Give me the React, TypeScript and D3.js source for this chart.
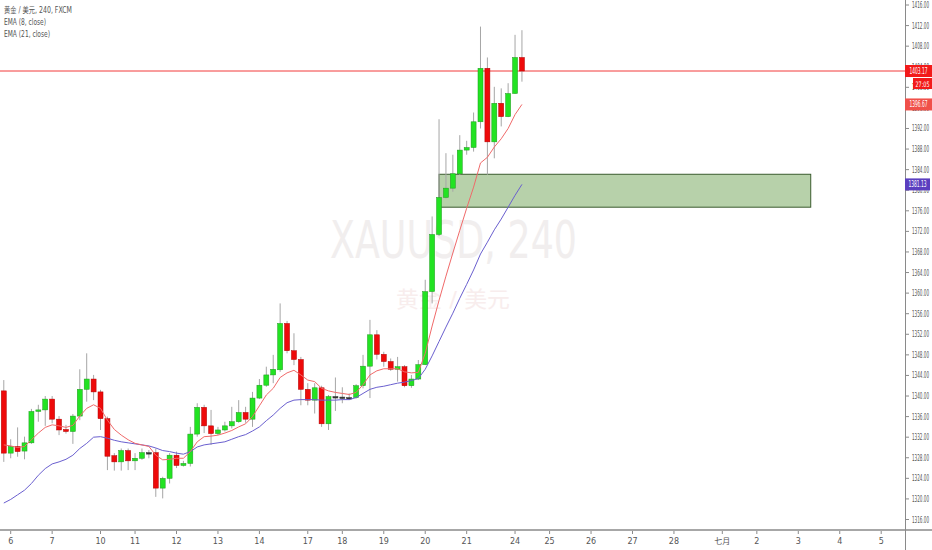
import React from 'react';
import * as d3 from 'd3';

// 4h candles, index 0 = session "6"
const candleStart = -1;
// [open, high, low, close]
const candles: [number, number, number, number][] = [
  [1341.0, 1343.1, 1327.2, 1328.9], [1328.9, 1331.6, 1327.9, 1330.2], [1330.2, 1333.9, 1328.2, 1329.2],
  [1329.3, 1332.1, 1327.7, 1330.9], [1330.9, 1337.5, 1330.7, 1337.0], [1337.0, 1338.3, 1335.0, 1337.3],
  [1337.3, 1340.0, 1334.2, 1339.4], [1339.4, 1340.0, 1334.7, 1335.5], [1335.5, 1336.1, 1332.4, 1333.4],
  [1333.5, 1334.4, 1332.7, 1333.1], [1333.1, 1336.5, 1330.7, 1336.1], [1336.1, 1345.2, 1335.3, 1341.3],
  [1341.3, 1348.3, 1338.9, 1343.3], [1343.3, 1344.1, 1339.2, 1340.8], [1340.8, 1341.2, 1333.4, 1335.6],
  [1335.6, 1336.0, 1325.6, 1328.3], [1328.4, 1328.9, 1325.5, 1327.2], [1327.2, 1329.8, 1325.5, 1329.4],
  [1329.4, 1329.8, 1325.6, 1327.4], [1327.4, 1328.9, 1325.6, 1327.9], [1327.9, 1329.8, 1327.6, 1329.0],
  [1329.0, 1329.5, 1327.9, 1329.0], [1329.0, 1329.8, 1320.4, 1322.1], [1322.1, 1324.3, 1320.1, 1324.0],
  [1324.0, 1328.9, 1323.0, 1328.5], [1328.5, 1329.2, 1326.0, 1326.5], [1326.5, 1327.4, 1326.3, 1326.9],
  [1326.9, 1334.0, 1326.3, 1332.6], [1332.6, 1338.6, 1332.1, 1337.8], [1337.8, 1338.3, 1332.8, 1334.2],
  [1334.2, 1337.3, 1330.5, 1332.7], [1332.7, 1334.0, 1332.4, 1333.4], [1333.4, 1335.0, 1333.1, 1334.2],
  [1334.2, 1337.9, 1333.7, 1335.0], [1335.0, 1339.2, 1334.8, 1336.8], [1336.8, 1337.9, 1334.8, 1335.5],
  [1335.5, 1340.8, 1334.0, 1339.6], [1339.6, 1343.3, 1339.4, 1342.1], [1342.1, 1345.7, 1341.8, 1344.1],
  [1344.1, 1348.0, 1342.5, 1345.2], [1345.1, 1358.0, 1344.7, 1354.1], [1354.1, 1354.6, 1348.3, 1348.8],
  [1348.8, 1352.2, 1346.0, 1347.1], [1347.1, 1347.6, 1338.2, 1341.3], [1341.3, 1342.5, 1338.2, 1339.2],
  [1339.2, 1342.5, 1336.6, 1341.6], [1341.6, 1342.0, 1334.0, 1334.6], [1334.6, 1340.2, 1333.4, 1339.9],
  [1339.9, 1343.6, 1337.1, 1339.9], [1339.8, 1341.7, 1338.6, 1339.8], [1339.7, 1340.5, 1339.2, 1339.7],
  [1339.7, 1342.3, 1339.5, 1342.0], [1342.0, 1348.0, 1341.5, 1345.8], [1345.8, 1354.8, 1339.6, 1351.9],
  [1351.9, 1352.8, 1347.1, 1348.1], [1348.1, 1348.6, 1345.7, 1346.7], [1346.7, 1347.3, 1344.9, 1345.2],
  [1345.2, 1347.6, 1342.8, 1345.7], [1345.7, 1346.0, 1341.7, 1342.0], [1342.0, 1344.1, 1341.6, 1343.3],
  [1343.3, 1347.0, 1343.1, 1346.1], [1346.1, 1362.6, 1346.0, 1360.3], [1360.3, 1374.9, 1358.0, 1371.4],
  [1371.4, 1393.8, 1371.1, 1378.6], [1378.6, 1387.2, 1378.4, 1380.4], [1380.4, 1386.9, 1379.7, 1383.2],
  [1383.2, 1390.7, 1383.0, 1387.8], [1387.8, 1389.6, 1386.9, 1388.3], [1388.3, 1395.1, 1387.5, 1393.3],
  [1393.3, 1411.8, 1392.0, 1403.7], [1403.7, 1405.8, 1383.0, 1389.4], [1389.4, 1400.1, 1386.2, 1396.9],
  [1396.9, 1399.8, 1392.4, 1394.3], [1394.3, 1400.8, 1394.2, 1398.8], [1398.8, 1410.2, 1398.7, 1405.8],
  [1405.8, 1411.1, 1401.1, 1403.17],
];

const ema8 = [
  1330.5, 1330.3, 1330.0, 1330.2, 1331.5, 1332.8, 1333.9, 1334.4, 1334.2, 1333.9, 1334.3, 1336.1,
  1337.6, 1338.3, 1337.6, 1335.3, 1333.5, 1332.4, 1331.5, 1330.8, 1330.5, 1330.2, 1328.5, 1327.6,
  1327.7, 1327.9, 1327.9, 1329.2, 1331.1, 1332.1, 1332.2, 1332.4, 1332.8, 1333.3, 1334.0, 1334.6,
  1336.0, 1338.1, 1340.2, 1341.5, 1343.6, 1344.5, 1345.0, 1344.1, 1343.1, 1342.8, 1341.5, 1341.0,
  1340.7, 1340.5, 1340.3, 1340.7, 1342.2, 1344.1, 1344.9, 1345.3, 1345.3, 1345.3, 1344.7, 1344.5,
  1344.6, 1348.3, 1353.6, 1358.6, 1363.3, 1367.8, 1372.2, 1376.5, 1380.6, 1385.3, 1386.4, 1388.4,
  1390.0, 1392.0, 1394.7, 1396.67,
];

const ema21 = [
  1319.2, 1319.9, 1320.8, 1321.7, 1323.0, 1324.6, 1325.9, 1326.8, 1327.2, 1327.7, 1328.5, 1329.8,
  1330.8, 1332.0, 1332.1, 1331.8, 1331.4, 1331.1, 1330.9, 1330.7, 1330.5, 1330.3, 1329.9, 1329.4,
  1329.2, 1328.9, 1328.7, 1329.2, 1330.1, 1330.5, 1330.7, 1330.9, 1331.1, 1331.6, 1332.1, 1332.5,
  1333.2, 1334.0, 1335.2, 1336.3, 1337.6, 1338.7, 1339.2, 1339.3, 1339.3, 1339.3, 1339.2, 1339.2,
  1339.2, 1339.3, 1339.3, 1339.7, 1340.5, 1341.3, 1341.7, 1341.9, 1342.2, 1342.5, 1342.7, 1343.0,
  1343.4, 1345.2, 1347.8, 1350.6, 1353.4, 1356.1, 1359.0, 1361.7, 1364.5, 1367.6, 1369.9, 1372.3,
  1374.4, 1376.7, 1379.0, 1381.13,
];

const dayLabels = ['6', '7', '10', '11', '12', '13', '14', '17', '18', '19', '20', '21', '24', '25', '26', '27', '28', '七月', '2', '3', '4', '5'];
const dayIndex = [0, 6, 13, 18, 24, 30, 36, 43, 48, 54, 60, 66, 73, 78, 84, 90, 96, 103, 108, 114, 120, 126];

const priceTicks = d3.range(1316, 1417, 4);
const lastPrice = 1403.17;
const zone = { from: 62, to: 115.8, top: 1383.1, bottom: 1376.7 };

const W = 932;
const H = 550;
const axisX = 905;
const axisY = 530;
const font = '"DejaVu Sans", "Noto Sans CJK SC", sans-serif';

export default function App() {
  const x = d3.scaleLinear().domain([0, 126]).range([10.7, 881.2]);
  const y = d3.scaleLinear().domain([1316, 1416]).range([519.5, 5]);
  const bw = 5;

  const line = d3
    .line<number>()
    .x((_, i) => x(i + candleStart))
    .y((d) => y(d));

  const priceBox = (v: number, fill: string, w = 27) => (
    <g transform={`translate(${axisX},${y(v)})`}>
      <rect x={0} y={-6} width={w} height={12} fill={fill} />
      <text x={w / 2} y={3} textAnchor="middle" fill="#fff" fontSize={8} textLength={18} lengthAdjust="spacingAndGlyphs">
        {v.toFixed(2)}
      </text>
    </g>
  );

  return (
    <svg width={W} height={H} style={{ position: 'absolute', left: 0, top: 0, background: '#fff' }} fontFamily={font}>
      <defs>
        <clipPath id="plot">
          <rect x={0} y={0} width={axisX} height={axisY} />
        </clipPath>
      </defs>

      {/* watermark */}
      <text x={330} y={258} fontSize={52} fill="#f1eeee" textLength={247} lengthAdjust="spacingAndGlyphs">
        XAUUSD, 240
      </text>
      <text x={396} y={307} fontSize={22} fill="#f8eded" textLength={114} lengthAdjust="spacingAndGlyphs">
        黄金 / 美元
      </text>

      <g clipPath="url(#plot)">
        {/* zone */}
        <rect
          x={x(zone.from)}
          y={y(zone.top)}
          width={x(zone.to) - x(zone.from)}
          height={y(zone.bottom) - y(zone.top)}
          fill="rgba(76,140,43,0.4)"
          stroke="#3b5b2e"
          strokeWidth={1}
        />

        {/* last price line */}
        <line x1={0} x2={axisX} y1={y(lastPrice)} y2={y(lastPrice)} stroke="#f23b3b" strokeWidth={1} />

        {/* candles */}
        {candles.map(([o, h, l, c], k) => {
          const cx = x(k + candleStart);
          const doji = Math.abs(o - c) < 0.05;
          const up = c > o;
          const fill = doji ? '#333' : up ? '#22e322' : '#ee0a0a';
          const stroke = doji ? '#333' : up ? '#1f9a1f' : '#b00000';
          const top = y(Math.max(o, c));
          const bh = Math.max(1.5, y(Math.min(o, c)) - top);
          return (
            <g key={k}>
              <line x1={cx} x2={cx} y1={y(h)} y2={y(l)} stroke="#a6a6a6" strokeWidth={1} />
              <rect x={cx - bw / 2} y={top} width={bw} height={bh} fill={fill} stroke={stroke} strokeWidth={0.5} />
            </g>
          );
        })}

        {/* EMAs */}
        <path d={line(ema21) || ''} fill="none" stroke="#6a5fcf" strokeWidth={1} />
        <path d={line(ema8) || ''} fill="none" stroke="#f06a6a" strokeWidth={1} />
      </g>

      {/* legend */}
      <g fill="#555" fontSize={8.5}>
        <text x={4} y={13} textLength={68} lengthAdjust="spacingAndGlyphs">黄金 / 美元, 240, FXCM</text>
        <text x={4} y={25} textLength={42} lengthAdjust="spacingAndGlyphs">EMA (8, close)</text>
        <text x={4} y={37} textLength={46} lengthAdjust="spacingAndGlyphs">EMA (21, close)</text>
      </g>

      {/* price axis */}
      <line x1={axisX + 0.5} x2={axisX + 0.5} y1={0} y2={H} stroke="#8a8a8a" strokeWidth={1} />
      {priceTicks.map((p) => (
        <g key={p} transform={`translate(${axisX},${y(p)})`}>
          <line x1={1} x2={4} y1={0} y2={0} stroke="#8a8a8a" />
          <text x={7} y={3} fontSize={8} fill="#555" textLength={17} lengthAdjust="spacingAndGlyphs">
            {p.toFixed(2)}
          </text>
        </g>
      ))}

      {/* time axis */}
      <line x1={0} x2={W} y1={axisY} y2={axisY} stroke="#8a8a8a" strokeWidth={1.5} />
      {dayLabels.map((t, k) => (
        <g key={t + k} transform={`translate(${x(dayIndex[k])},${axisY})`}>
          <line x1={0} x2={0} y1={1} y2={4} stroke="#8a8a8a" />
          <text y={14} textAnchor="middle" fontSize={8} fill="#555">
            {t}
          </text>
        </g>
      ))}

      {/* price labels */}
      {priceBox(ema21[ema21.length - 1], '#5b3fc0', 25)}
      {priceBox(ema8[ema8.length - 1], '#f0504a')}
      {priceBox(lastPrice, '#f21a1a')}
      <g transform={`translate(913,${y(lastPrice) + 13})`}>
        <rect x={0} y={-6} width={19} height={11} fill="#f21a1a" />
        <text x={9.5} y={2.6} textAnchor="middle" fill="#fff" fontSize={7.5} textLength={14} lengthAdjust="spacingAndGlyphs">
          27:05
        </text>
      </g>
    </svg>
  );
}
